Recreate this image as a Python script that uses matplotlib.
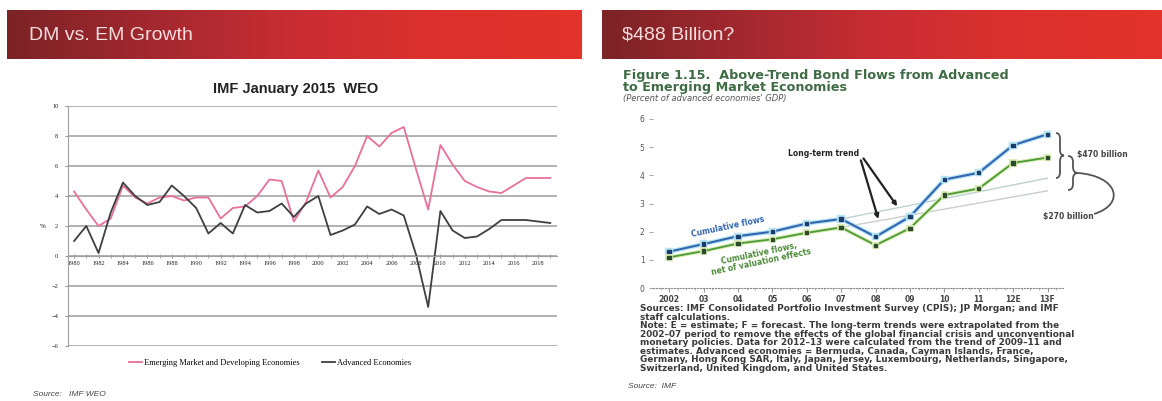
import numpy as np
import matplotlib
matplotlib.use('Agg')
import matplotlib.pyplot as plt
import matplotlib.patheffects as pe
from matplotlib.colors import LinearSegmentedColormap
from matplotlib.path import Path
from matplotlib.patches import PathPatch
from matplotlib.ticker import MultipleLocator

W, H = 1162, 401

# left slide: IMF WEO real GDP growth (%)
years = list(range(1980, 2020))
em_growth = [4.3, 3.1, 2.0, 2.5, 4.7, 3.9, 3.5, 3.9, 4.0, 3.7,
             3.9, 3.9, 2.5, 3.2, 3.3, 4.0, 5.1, 5.0, 2.3, 3.6,
             5.7, 3.9, 4.6, 6.0, 8.0, 7.3, 8.2, 8.6, 5.8, 3.1,
             7.4, 6.1, 5.0, 4.6, 4.3, 4.2, 4.7, 5.2, 5.2, 5.2]
ae_growth = [1.0, 2.0, 0.2, 2.9, 4.9, 4.0, 3.4, 3.6, 4.7, 4.0,
             3.2, 1.5, 2.2, 1.5, 3.4, 2.9, 3.0, 3.5, 2.6, 3.5,
             4.0, 1.4, 1.7, 2.1, 3.3, 2.8, 3.1, 2.7, 0.1, -3.4,
             3.0, 1.7, 1.2, 1.3, 1.8, 2.4, 2.4, 2.4, 2.3, 2.2]

# right slide: above-trend bond flows (% of advanced economies' GDP)
periods = ['2002', '03', '04', '05', '06', '07', '08', '09', '10', '11', '12E', '13F']
cum_flows = [1.29, 1.56, 1.84, 2.0, 2.29, 2.45, 1.82, 2.53, 3.85, 4.09, 5.07, 5.46]
cum_net = [1.09, 1.31, 1.58, 1.73, 1.96, 2.15, 1.52, 2.12, 3.3, 3.53, 4.44, 4.63]
trend_periods = ['07', '13F']
trend_flows = [2.45, 3.9]
trend_net = [2.15, 3.45]

fig = plt.figure(figsize=(W / 100, H / 100), dpi=100)
fig.patch.set_facecolor('white')


def px_axes(x0, y0, x1, y1):
    return fig.add_axes([x0 / W, 1 - y1 / H, (x1 - x0) / W, (y1 - y0) / H])


# overlay in pixel coords for slide furniture
ov = fig.add_axes([0, 0, 1, 1])
ov.set_xlim(0, W)
ov.set_ylim(H, 0)
ov.axis('off')

bar_cmap = LinearSegmentedColormap.from_list(
    'bar', ['#7c2326', '#a3282f', '#c92d33', '#dc312d', '#e3332a'])
grad = np.linspace(0, 1, 256).reshape(1, -1)
for x0, x1 in [(7, 582), (602, 1162)]:
    ov.imshow(grad, extent=[x0, x1, 59, 10], aspect='auto', cmap=bar_cmap, zorder=1)
ov.set_xlim(0, W)
ov.set_ylim(H, 0)

hdr = dict(fontsize=14, color='#f5dede', va='center', family='Liberation Sans', zorder=2)
ov.text(29, 35, 'DM vs. EM Growth', **hdr)
ov.text(622, 35, '$488 Billion?', **hdr)

# ---- left chart ----
ax1 = px_axes(68, 106, 557, 346)
ax1.set_facecolor('none')
ax1.plot(years, em_growth, color='#e8709a', lw=1.3, label='Emerging Market and Developing Economies')
ax1.plot(years, ae_growth, color='#3f3f3f', lw=1.3, label='Advanced Economies')
ax1.set_xlim(1979.5, 2019.55)
ax1.set_ylim(-6, 10)
ax1.set_yticks(range(-6, 11, 2))
ax1.yaxis.grid(True, color='#ababab', lw=1.3)
ax1.set_axisbelow(True)
ax1.set_xticks(years[::2])
ax1.xaxis.set_minor_locator(MultipleLocator(1))
for s in ['top', 'right']:
    ax1.spines[s].set_visible(False)
ax1.spines['left'].set_color('#a0a0a0')
ax1.spines['bottom'].set_position(('data', 0))
ax1.spines['bottom'].set_color('#a0a0a0')
ax1.tick_params(axis='x', which='both', direction='inout', length=3, color='#999999',
                labelsize=4.6, pad=2, labelcolor='#222222')
ax1.tick_params(axis='y', length=2, color='#999999', labelsize=4.6, labelcolor='#222222', pad=5)
for lab in ax1.get_xticklabels() + ax1.get_yticklabels():
    lab.set_family('Liberation Serif')
ax1.set_ylabel('%', rotation=0, fontsize=5, family='Liberation Serif', labelpad=6, va='center')

ov.text(296, 89, 'IMF January 2015  WEO', fontsize=10.5, weight='bold', ha='center', va='center',
        family='Liberation Sans', color='#222222')
fig.legend(*ax1.get_legend_handles_labels(), loc='center', bbox_to_anchor=(270 / W, 1 - 363 / H),
           ncol=2, frameon=False, prop={'family': 'Liberation Serif', 'size': 6},
           handlelength=1.5, handletextpad=0.2, columnspacing=2.8)
ov.text(33, 395, 'Source:   IMF WEO', fontsize=6, style='italic', va='center', color='#444444',
        family='Liberation Sans')

# ---- right chart ----
title_kw = dict(fontsize=9.2, weight='bold', va='center', color='#3f6b45', family='DejaVu Sans')
ov.text(623, 75, 'Figure 1.15.  Above-Trend Bond Flows from Advanced', **title_kw)
ov.text(623, 87, 'to Emerging Market Economies', **title_kw)
ov.text(623, 99, "(Percent of advanced economies' GDP)", fontsize=6, style='italic',
        va='center', color='#555555', family='DejaVu Sans')

ax2 = px_axes(653, 119, 1063, 288)
ax2.set_facecolor('none')
xpos = np.arange(len(periods))
trend_x = [periods.index(p) for p in trend_periods]
ax2.plot(trend_x, trend_flows, color='#bcd0d0', lw=1.0)
ax2.plot(trend_x, trend_net, color='#c8d0c8', lw=1.0)
ax2.plot(xpos, cum_flows, color='#3565b0', lw=1.5, marker='s', ms=2.4, mfc='#1d3c6e', mec='#1d3c6e',
         path_effects=[pe.Stroke(linewidth=3.2, foreground='#b4e4f2'), pe.Normal()])
ax2.plot(xpos, cum_net, color='#4e9a3a', lw=1.3, marker='s', ms=2.4, mfc='#2c4a2c', mec='#2c4a2c',
         path_effects=[pe.Stroke(linewidth=2.8, foreground='#d8ecb0'), pe.Normal()])
ax2.set_xticks(xpos)
ax2.set_xticklabels(periods)
ax2.set_xlim(-0.47, 11.45)
ax2.set_ylim(0, 6)
ax2.set_yticks(range(0, 7))
for s in ['top', 'right', 'left']:
    ax2.spines[s].set_visible(False)
ax2.spines['bottom'].set_linestyle(':')
ax2.spines['bottom'].set_color('#888888')
ax2.xaxis.set_minor_locator(MultipleLocator(0.25))
ax2.tick_params(axis='y', length=3, color='#aaaaaa', labelsize=5.5, labelcolor='#555555', pad=3)
ax2.tick_params(axis='x', which='major', length=3, color='#999999', labelsize=5.5,
                labelcolor='#444444', pad=2)
ax2.tick_params(axis='x', which='minor', length=1.5, color='#aaaaaa')
for lab in ax2.get_xticklabels():
    lab.set_weight('bold')

arrow = dict(arrowstyle='-|>', color='#222222', lw=1.6, mutation_scale=6, shrinkA=0, shrinkB=0)
ax2.annotate('Long-term trend', xy=(6.08, 2.45), xytext=(4.5, 4.79), fontsize=5.5, weight='bold',
             ha='center', va='center', color='#222222', arrowprops=dict(arrow, relpos=(1.0, 0.2)))
ax2.annotate('', xy=(6.63, 2.9), xytext=(5.65, 4.6), arrowprops=arrow)

ov.text(728, 227, 'Cumulative flows', fontsize=5.5, color='#3565b0', rotation=12,
        ha='center', va='center', weight='bold')
ov.text(760, 258, 'Cumulative flows,\nnet of valuation effects', fontsize=5.5, color='#4e8a3a',
        rotation=12, ha='center', va='center', weight='bold', linespacing=1.0)


def brace(x, top, bot, w, lw=1.3):
    mid = (top + bot) / 2
    r = min(6, (bot - top) / 4)
    verts = [(x, top), (x + w / 2, top), (x + w / 2, top + r),
             (x + w / 2, mid - r), (x + w / 2, mid), (x + w, mid),
             (x + w / 2, mid), (x + w / 2, mid + r),
             (x + w / 2, bot - r), (x + w / 2, bot), (x, bot)]
    codes = [Path.MOVETO, Path.CURVE3, Path.CURVE3, Path.LINETO, Path.CURVE3, Path.CURVE3,
             Path.CURVE3, Path.CURVE3, Path.LINETO, Path.CURVE3, Path.CURVE3]
    ov.add_patch(PathPatch(Path(verts, codes), fill=False, lw=lw, color='#555555'))


brace(1056, 133, 178, 8)
brace(1068, 156, 190, 10)
conn = Path([(1078, 173), (1118, 176), (1126, 204), (1094, 214)],
            [Path.MOVETO, Path.CURVE4, Path.CURVE4, Path.CURVE4])
ov.add_patch(PathPatch(conn, fill=False, lw=1.3, color='#555555'))
ov.text(1077, 155, '$470 billion', fontsize=5.5, weight='bold', va='center', color='#444444')
ov.text(1043, 217, '$270 billion', fontsize=5.5, weight='bold', va='center', color='#444444')

notes = ("Sources: IMF Consolidated Portfolio Investment Survey (CPIS); JP Morgan; and IMF\n"
         "staff calculations.\n"
         "Note: E = estimate; F = forecast. The long-term trends were extrapolated from the\n"
         "2002\u201307 period to remove the effects of the global financial crisis and unconventional\n"
         "monetary policies. Data for 2012\u201313 were calculated from the trend of 2009\u201311 and\n"
         "estimates. Advanced economies = Bermuda, Canada, Cayman Islands, France,\n"
         "Germany, Hong Kong SAR, Italy, Japan, Jersey, Luxembourg, Netherlands, Singapore,\n"
         "Switzerland, United Kingdom, and United States.")
ov.text(640, 304, notes, fontsize=6.4, weight='bold', color='#3a3a3a', va='top', linespacing=0.93,
        family='DejaVu Sans')
ov.text(628, 387, 'Source:  IMF', fontsize=6, style='italic', va='center', color='#444444',
        family='Liberation Sans')

fig.savefig('out.png', dpi=100)
